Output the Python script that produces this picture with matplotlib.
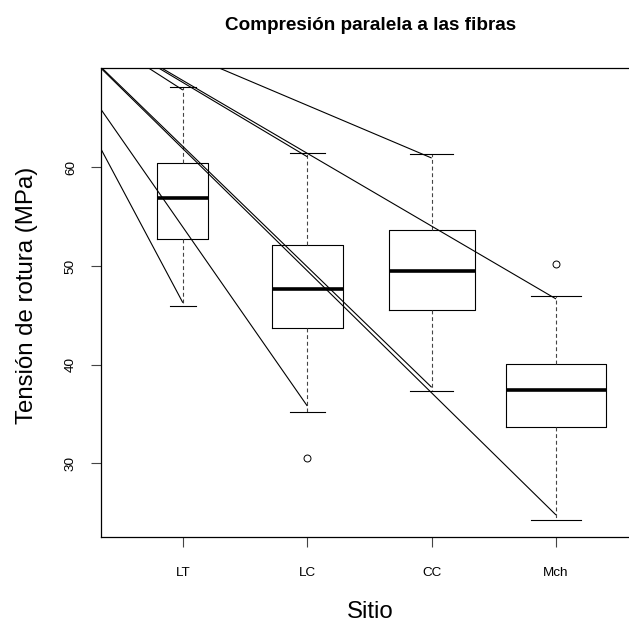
import matplotlib
matplotlib.use("Agg")
import matplotlib.pyplot as plt

plt.rcParams['font.family'] = ['Liberation Sans', 'DejaVu Sans']

# ---- data ----
sites = ["LT", "LC", "CC", "Mch"]
whis_lo = [45.9, 35.2, 37.3, 24.3]
q1 = [52.7, 43.7, 45.5, 33.7]
medians = [56.9, 47.7, 49.5, 37.4]
q3 = [60.4, 52.1, 53.6, 40.1]
whis_hi = [68.1, 61.4, 61.3, 47.0]
outliers = [[], [30.5], [], [50.2]]
box_widths = [0.41, 0.567, 0.69, 0.805]   # varwidth boxes

# stray lines drawn from a common point to near the whisker ends
line_origin = (-0.383, 79.0)
line_end_upper = [67.83, 61.07, 60.94, 46.66]
line_end_lower = [46.28, 35.82, 37.71, 24.77]

yticks = [30, 40, 50, 60]

# ---- figure ----
W, H = 629, 624
fig = plt.figure(figsize=(W / 100, H / 100), dpi=100)
left_px, right_px, top_px, bottom_px = 100.5, 640.0, 68.3, 537.3
ax = fig.add_axes([left_px / W, 1 - bottom_px / H,
                   (right_px - left_px) / W, (bottom_px - top_px) / H])

positions = list(range(1, len(sites) + 1))
stats = []
for i in range(len(sites)):
    stats.append(dict(whislo=whis_lo[i], q1=q1[i], med=medians[i], q3=q3[i],
                      whishi=whis_hi[i], fliers=outliers[i]))

ax.bxp(stats, positions=positions, widths=box_widths,
       capwidths=[w / 2 for w in box_widths],
       showfliers=True, patch_artist=False,
       boxprops=dict(color='black', linewidth=0.8),
       medianprops=dict(color='black', linewidth=2.6, solid_capstyle='butt'),
       whiskerprops=dict(color='#444444', linewidth=0.8, linestyle=(0, (3.5, 2.5))),
       capprops=dict(color='black', linewidth=0.8),
       flierprops=dict(marker='o', markerfacecolor='none', markeredgecolor='black',
                       markersize=5, markeredgewidth=0.7, linestyle='none'))

for i, p in enumerate(positions):
    for ye in (line_end_upper[i], line_end_lower[i]):
        ax.plot([line_origin[0], p], [line_origin[1], ye], color='black',
                linewidth=0.8, solid_capstyle='butt')

ax.set_xlim(0.338, 4.675)
ax.set_ylim(22.51, 70.03)

ax.set_xticks(positions)
ax.set_xticklabels(sites, fontsize=9.7)
ax.set_yticks(yticks)
ax.set_yticklabels([str(t) for t in yticks], fontsize=9.7, rotation=90, va='center')
ax.tick_params(axis='x', length=7.5, width=0.8, color='#444444', pad=14)
ax.tick_params(axis='y', length=7.0, width=0.8, color='#444444', pad=10)

for s in ['left', 'bottom', 'top']:
    ax.spines[s].set_linewidth(0.9)
    ax.spines[s].set_color('black')
ax.spines['right'].set_visible(False)

cx = (left_px + right_px) / 2
fig.text(cx / W, 1 - 30 / H, "Compresión paralela a las fibras",
         ha='center', va='baseline', fontsize=13.6, fontweight='bold')
fig.text(cx / W, 1 - 618.5 / H, "Sitio", ha='center', va='baseline', fontsize=17.3)
fig.text(27 / W, 1 - 295 / H, "Tensión de rotura (MPa)",
         ha='center', va='center', rotation=90, fontsize=17.3)

fig.savefig("out.png", dpi=100)
